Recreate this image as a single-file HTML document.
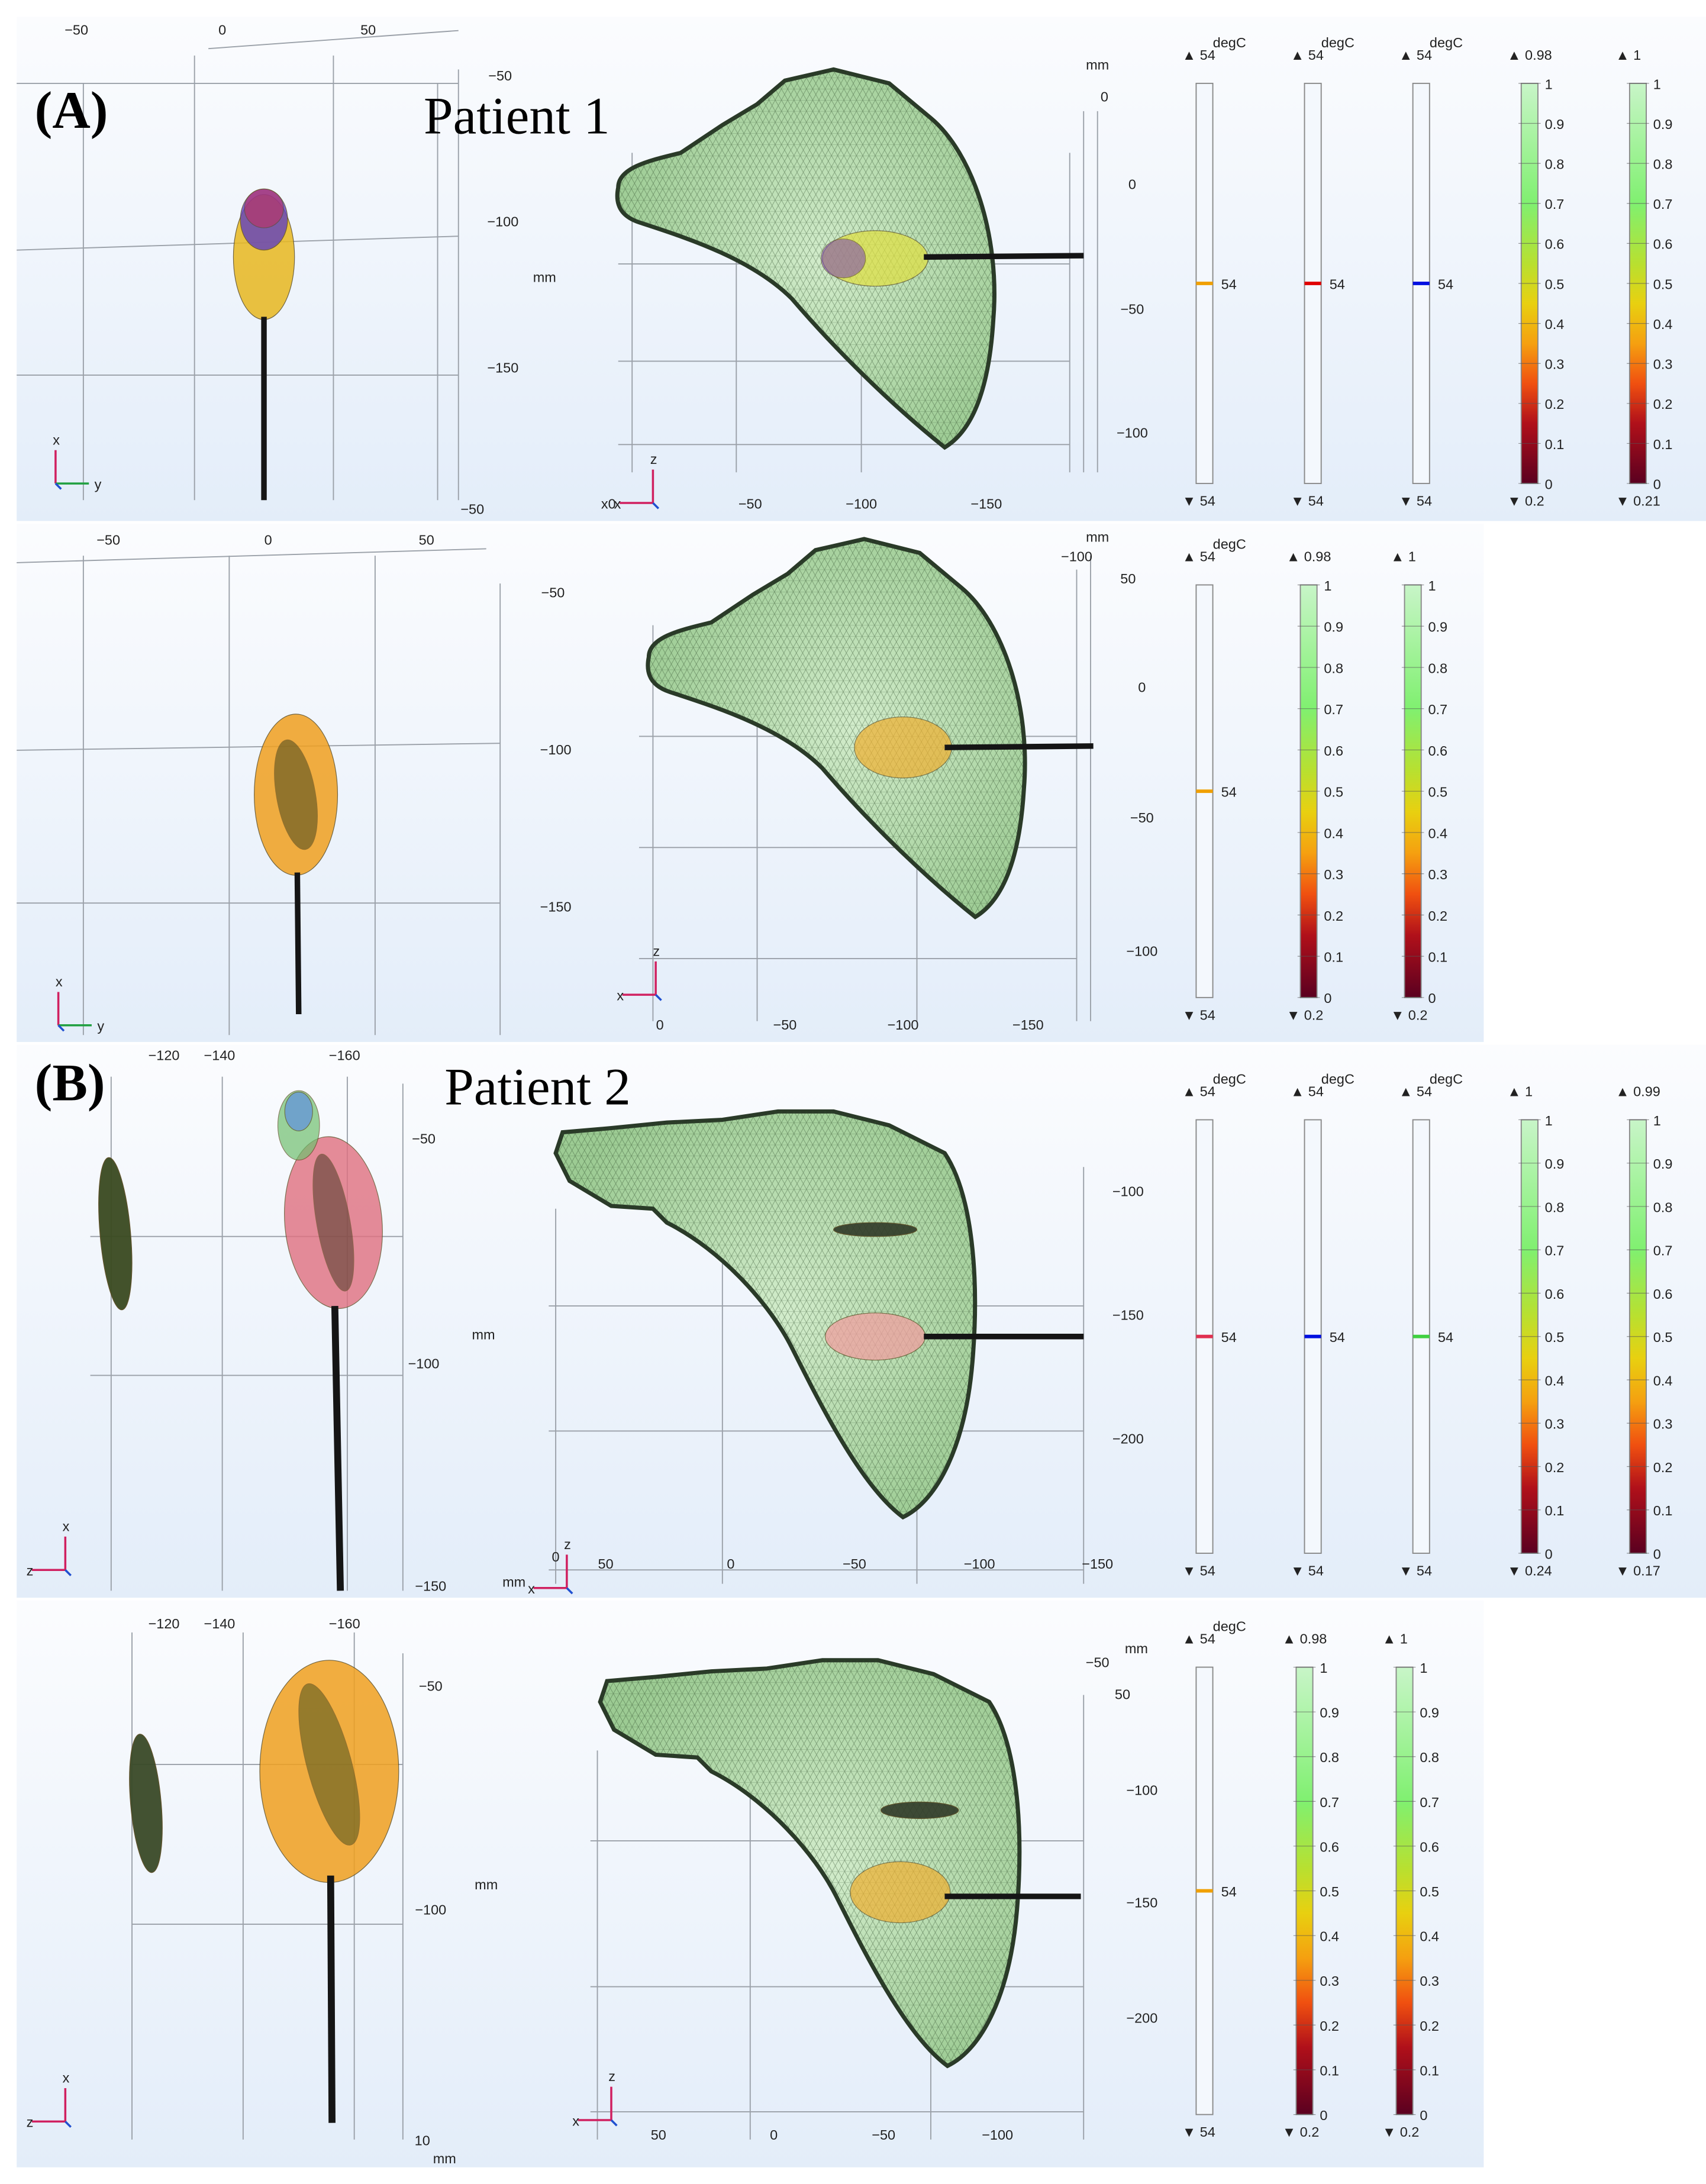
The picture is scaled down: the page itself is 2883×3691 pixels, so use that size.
<!DOCTYPE html>
<html><head><meta charset="utf-8"><style>
html,body{margin:0;padding:0;background:#fff}
svg{display:block}
text{font-family:"Liberation Sans",sans-serif;fill:#222}
.lbl{font-size:10px}
.big{font-family:"Liberation Serif",serif;font-size:38px;fill:#000}
</style></head><body>
<svg id="fig" width="2883" height="3691" viewBox="0 0 1228 1572" preserveAspectRatio="none" xmlns="http://www.w3.org/2000/svg">
<defs>
<linearGradient id="bg" x1="0" y1="0" x2="0" y2="1"><stop offset="0" stop-color="#fbfcfe"/><stop offset="1" stop-color="#e3edf9"/></linearGradient>
<linearGradient id="cmap" x1="0" y1="1" x2="0" y2="0">
<stop offset="0" stop-color="#5a0020"/><stop offset="0.15" stop-color="#b0101a"/><stop offset="0.25" stop-color="#f05010"/><stop offset="0.35" stop-color="#f5a010"/><stop offset="0.45" stop-color="#e8d010"/><stop offset="0.55" stop-color="#b8e030"/><stop offset="0.7" stop-color="#80f070"/><stop offset="1" stop-color="#c8f5c8"/></linearGradient>
<pattern id="mesh" width="9" height="8" patternUnits="userSpaceOnUse"><path d="M0,0 L9,0 L4.5,8 Z M0,8 L4.5,0 M9,8 L4.5,0" fill="none" stroke="#2e4a2a" stroke-width="0.3" opacity="0.55"/></pattern>
<radialGradient id="liv" cx="0.55" cy="0.5" r="0.6"><stop offset="0" stop-color="#d2eccb"/><stop offset="1" stop-color="#9ccb93"/></radialGradient>
<path id="liverA" d="M445,135 C445,120 470,115 490,110 L520,90 L545,75 L565,58 L600,50 L640,60 L670,85 C700,110 720,170 715,230 C712,280 700,310 680,322 C640,290 600,250 570,215 C540,185 490,170 460,160 C445,155 443,145 445,135Z"/>
<path id="liverB" d="M400,830 L405,815 L440,812 L480,808 L520,806 L560,800 L600,800 L640,810 L680,830 C700,860 705,920 700,980 C695,1040 675,1080 650,1092 C620,1070 590,1010 570,970 C555,940 520,900 480,880 L470,870 L440,868 L410,850 Z"/>
</defs>
<rect width="1228" height="1572" fill="#fff"/>
<g id="panels"></g>
</svg>
<script>
const NS="http://www.w3.org/2000/svg";
const root=document.getElementById('panels');
function el(tag,attrs,parent,txt){const e=document.createElementNS(NS,tag);for(const k in attrs)e.setAttribute(k,attrs[k]);if(txt!==undefined)e.textContent=txt;(parent||root).appendChild(e);return e;}

const panelRects=[[12,12,1216,363],[12,377,1056,373],[12,752,1216,398],[12,1152,1056,408]];
panelRects.forEach((r,i)=>{const e=el('rect',{x:r[0],y:r[1],width:r[2],height:r[3],fill:'url(#bg)'});

});

const gridLines=[
[60,60,60,360],[140,40,140,360],[240,40,240,360],[315,60,315,360],[330,50,330,360],[12,60,330,60],[12,180,330,170],[12,270,330,270],[150,35,330,22],
[455,110,455,340],[530,100,530,340],[620,100,620,340],[770,110,770,340],[780,80,780,340],[790,80,790,340],[445,190,770,190],[445,260,770,260],[445,320,770,320],
[60,400,60,745],[165,400,165,745],[270,400,270,745],[360,420,360,745],[12,405,350,395],[12,540,360,535],[12,650,360,650],
[470,450,470,735],[545,440,545,735],[660,440,660,735],[775,410,775,735],[785,400,785,735],[460,530,775,530],[460,610,775,610],[460,690,775,690],
[80,775,80,1145],[160,775,160,1145],[250,775,250,1145],[290,780,290,1145],[65,990,290,990],[65,890,290,890],
[400,870,400,1140],[520,860,520,1140],[660,860,660,1140],[780,840,780,1140],[395,940,780,940],[395,1030,780,1030],[395,1130,780,1130],
[95,1175,95,1540],[175,1175,175,1540],[255,1175,255,1540],[290,1190,290,1540],[95,1385,290,1385],[95,1270,290,1270],
[430,1260,430,1540],[540,1250,540,1540],[670,1250,670,1540],[780,1220,780,1540],[425,1325,780,1325],[425,1430,780,1430],[425,1520,780,1520]
];
gridLines.forEach(g=>{const e=el('line',{x1:g[0],y1:g[1],x2:g[2],y2:g[3],stroke:'#9aa0a8','stroke-width':0.8});

});

const axisLabels=[[55,25,'−50'],[160,25,'0'],[265,25,'50'],[360,58,'−50'],[362,163,'−100'],[362,268,'−150'],[340,370,'−50'],[392,203,'mm'],[795,73,'0'],[815,136,'0'],[815,226,'−50'],[815,315,'−100'],[540,366,'−50'],[620,366,'−100'],[710,366,'−150'],[438,366,'x0'],[790,50,'mm'],
[78,392,'−50'],[193,392,'0'],[307,392,'50'],[398,430,'−50'],[400,543,'−100'],[400,656,'−150'],[790,390,'mm'],[775,404,'−100'],[812,420,'50'],[822,498,'0'],[822,592,'−50'],[822,688,'−100'],[475,741,'0'],[565,741,'−50'],[650,741,'−100'],[740,741,'−150'],
[118,763,'−120'],[158,763,'−140'],[248,763,'−160'],[305,823,'−50'],[305,985,'−100'],[348,964,'mm'],[310,1145,'−150'],[812,861,'−100'],[812,950,'−150'],[812,1039,'−200'],[436,1129,'50'],[526,1129,'0'],[615,1129,'−50'],[705,1129,'−100'],[790,1129,'−150'],[400,1124,'0'],[370,1142,'mm'],
[118,1172,'−120'],[158,1172,'−140'],[248,1172,'−160'],[310,1217,'−50'],[310,1378,'−100'],[350,1360,'mm'],[304,1544,'10'],[320,1557,'mm'],[790,1200,'−50'],[818,1190,'mm'],[808,1223,'50'],[822,1292,'−100'],[822,1373,'−150'],[822,1456,'−200'],[474,1540,'50'],[557,1540,'0'],[636,1540,'−50'],[718,1540,'−100']
];
axisLabels.forEach(a=>{const e=el('text',{x:a[0],y:a[1],class:'lbl','text-anchor':'middle'},root,a[2]);

});

const livers=[['liverA',0,0],['liverA',22,338],['liverB',0,0],['liverB',32,395]];
livers.forEach((L,i)=>{const g=el('g',{transform:`translate(${L[1]},${L[2]})`});


el('use',{href:'#'+L[0],fill:'url(#liv)',stroke:'#2a3a28','stroke-width':3},g);
el('use',{href:'#'+L[0],fill:'url(#mesh)'},g);});

const zones=[[190,185,22,45,'#e8b820',0.85,0],[190,158,17,22,'#6040c0',0.8,0],[190,150,14,14,'#c03060',0.6,0],
[213,572,30,58,'#f0a020',0.85,0],[213,572,14,40,'#555020',0.6,-10],
[83,888,11,55,'#3a4a20',0.95,-5],[240,880,35,62,'#e07080',0.8,-5],[215,810,15,25,'#70c070',0.7,0],[215,800,10,14,'#6090e0',0.7,0],[240,880,12,50,'#5a4030',0.6,-10],
[105,1298,11,50,'#3a4a28',0.95,-5],[237,1275,50,80,'#f0a020',0.85,0],[237,1270,16,60,'#5a5a20',0.6,-15],
[630,186,38,20,'#e0e040',0.7,0],[607,186,16,14,'#8050b0',0.6,0],[650,538,35,22,'#f0b030',0.7,0],
[630,962,36,17,'#f0a0a0',0.75,0],[630,885,30,5,'#303a28',0.9,0],[648,1362,36,22,'#f0b030',0.7,0],[662,1303,28,6,'#303a28',0.9,0]];
zones.forEach(z=>{const e=el('ellipse',{cx:z[0],cy:z[1],rx:z[2],ry:z[3],fill:z[4],opacity:z[5],transform:`rotate(${z[6]} ${z[0]} ${z[1]})`,stroke:'#5a4a20','stroke-width':0.5});

});

const needles=[[190,228,190,360,4],[214,628,215,730,4],[241,940,245,1145,5],[238,1350,239,1528,5],[665,185,780,184,4],[680,538,787,537,4],[665,962,780,962,4],[680,1365,778,1365,4]];
needles.forEach(n=>{const e=el('line',{x1:n[0],y1:n[1],x2:n[2],y2:n[3],stroke:'#151515','stroke-width':n[4]});

});

const triads=[[40,348,'y','x'],[42,738,'y','x'],[47,1130,'z','x'],[47,1527,'z','x'],[470,362,'x','z'],[472,716,'x','z'],[408,1143,'x','z'],[440,1526,'x','z']];
triads.forEach((t,i)=>{const g=el('g',{});


const dir=i<2?1:-1;
el('line',{x1:t[0],y1:t[1],x2:t[0],y2:t[1]-24,stroke:'#d02060','stroke-width':1.5},g);
el('line',{x1:t[0],y1:t[1],x2:t[0]+dir*24,y2:t[1],stroke:dir>0?'#20a040':'#d02060','stroke-width':1.5},g);
el('line',{x1:t[0],y1:t[1],x2:t[0]+4,y2:t[1]+4,stroke:'#2050d0','stroke-width':1.5},g);
el('text',{x:t[0]-2,y:t[1]-28,class:'lbl'},g,t[3]);
el('text',{x:t[0]+dir*28,y:t[1]+4,class:'lbl'},g,t[2]);});

const cbX=[[861,939,1017,1095,1173],[861,936,1011],[861,939,1017,1095,1173],[861,933,1005]];
const cbTop=[60,421,806,1200];
const cbBot=[348,718,1118,1522];
const cbTypes=[['t','t','t','g','g'],['t','g','g'],['t','t','t','g','g'],['t','g','g']];
const cbMax=[['54','54','54','0.98','1'],['54','0.98','1'],['54','54','54','1','0.99'],['54','0.98','1']];
const cbMin=[['54','54','54','0.2','0.21'],['54','0.2','0.2'],['54','54','54','0.24','0.17'],['54','0.2','0.2']];
const markColors=[['#f0a000','#e00000','#0010e0'],['#f0a000'],['#e03050','#0010e0','#40d040'],['#f0a000']];
const tickVals=[0,0.1,0.2,0.3,0.4,0.5,0.6,0.7,0.8,0.9,1];
cbX.forEach((row,r)=>{row.forEach((x,c)=>{
  const g=el('g',{});
  
  
  const top=cbTop[r],bot=cbBot[r],h=bot-top;
  const isG=cbTypes[r][c]==='g';
  if(!isG) el('text',{x:x+24,y:top-26,class:'lbl','text-anchor':'middle'},g,'degC');
  el('text',{x:x-10,y:top-17,class:'lbl'},g,'▲ '+cbMax[r][c]);
  el('text',{x:x-10,y:bot+16,class:'lbl'},g,'▼ '+cbMin[r][c]);
  el('rect',{x:x,y:top,width:12,height:h,fill:isG?'url(#cmap)':'#f4f8fd',stroke:'#888','stroke-width':0.8},g);
  if(isG){tickVals.forEach(v=>{const y=bot-v*h;
    el('line',{x1:x-2,y1:y,x2:x+14,y2:y,stroke:'#555','stroke-width':0.5,opacity:0.6},g);
    el('text',{x:x+17,y:y+4,class:'lbl'},g,String(v));});}
  else{const y=(top+bot)/2;
    el('line',{x1:x,y1:y,x2:x+12,y2:y,stroke:markColors[r][c],'stroke-width':2.5},g);
    el('text',{x:x+18,y:y+4,class:'lbl'},g,'54');}
});});

[[25,92,'(A)',true],[305,96,'Patient 1',false],[25,792,'(B)',true],[320,795,'Patient 2',false]].forEach(t=>{
  const e=el('text',{x:t[0],y:t[1],class:'big','font-weight':t[3]?'bold':'normal'},root,t[2]);
  
  });
</script>
</body></html>
